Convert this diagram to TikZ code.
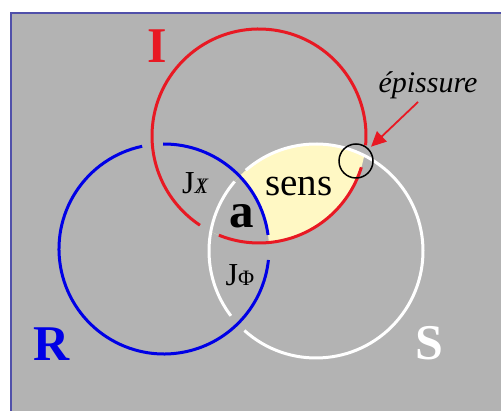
\documentclass[tikz,border=0pt]{standalone}
\usepackage{fontspec}
\setmainfont{Liberation Serif}
\usetikzlibrary{arrows.meta}
\definecolor{panelgray}{RGB}{179,179,179}
\definecolor{paneledge}{RGB}{80,80,170}
\definecolor{ringred}{RGB}{232,25,35}
\definecolor{ringblue}{RGB}{0,0,230}
\definecolor{sensyellow}{RGB}{255,248,196}
\tikzstyle{ring} = [line width=3pt]
\tikzstyle{arrow} = [line width=1.8pt, draw=ringred, -{Triangle[length=15pt,width=14pt]}]
\tikzstyle{letter} = [font=\fontsize{50}{50}\selectfont\bfseries, anchor=base, inner sep=0pt]
\tikzstyle{tag} = [font=\fontsize{32}{32}\selectfont, anchor=base, inner sep=0pt]

\begin{document}
\begin{tikzpicture}[x=1pt,y=1pt]
\useasboundingbox (0,0) rectangle (501,411);
\clip (0,0) rectangle (501,411);
\fill[white] (0,0) rectangle (501,411);
% panel
\filldraw[fill=panelgray, draw=paneledge, line width=2pt] (11,398) rectangle (520,-20);

% sens: inside I and S, outside R
\begin{scope}
\clip (259,275) circle (107);
\clip (316,160) circle (107);
\fill[sensyellow] (150,150) rectangle (380,290);
\fill[panelgray] (164,162) circle (105);
\end{scope}

% rings, broken where they pass under
\begin{scope}[shift={(259,275)}]
\draw[ring, ringred] (248:107) arc[start angle=248, end angle=343, radius=107];
\draw[ring, ringred] (-5:107) arc[start angle=-5, end angle=236.5, radius=107];
\end{scope}
\begin{scope}[shift={(164,162)}]
\draw[ring, ringblue] (7.7:105) arc[start angle=7.7, end angle=90.5, radius=105];
\draw[ring, ringblue] (102:105) arc[start angle=102, end angle=354, radius=105];
\end{scope}
\begin{scope}[shift={(316,160)}]
\draw[ring, white] (-132:107) arc[start angle=-132, end angle=131, radius=107];
\draw[ring, white] (139.5:107) arc[start angle=139.5, end angle=217.3, radius=107];
\end{scope}

% labels
\node (ringI) [letter, text=ringred] at (157,348) {I};
\node (ringR) [letter, text=ringblue] at (52,50) {R};
\node (ringS) [letter, text=white] at (429,51) {S};
\node (sens) [tag, font=\fontsize{39}{39}\selectfont] at (299,215) {sens};
\node (knot) [tag, font=\fontsize{49}{49}\selectfont\bfseries] at (242,183) {a};
\node (jchi) [tag] at (195,217) {J{\fontsize{22}{22}\selectfont\ooalign{\itshape X\cr\hidewidth/\hidewidth}}};
\node (jphi) [tag] at (240,125) {J{\fontsize{22}{22}\selectfont Φ}};

% splice
\node (splice) [circle, draw=black, line width=1.5pt, minimum size=34pt, inner sep=0pt] at (356,250) {};
\node (episs) [tag, font=\fontsize{30}{30}\selectfont\itshape] at (428,318) {épissure};
\coordinate (tail) at (418,309);
\draw [arrow, shorten >=3pt] (tail) -- (splice);

\end{tikzpicture}
\end{document}
